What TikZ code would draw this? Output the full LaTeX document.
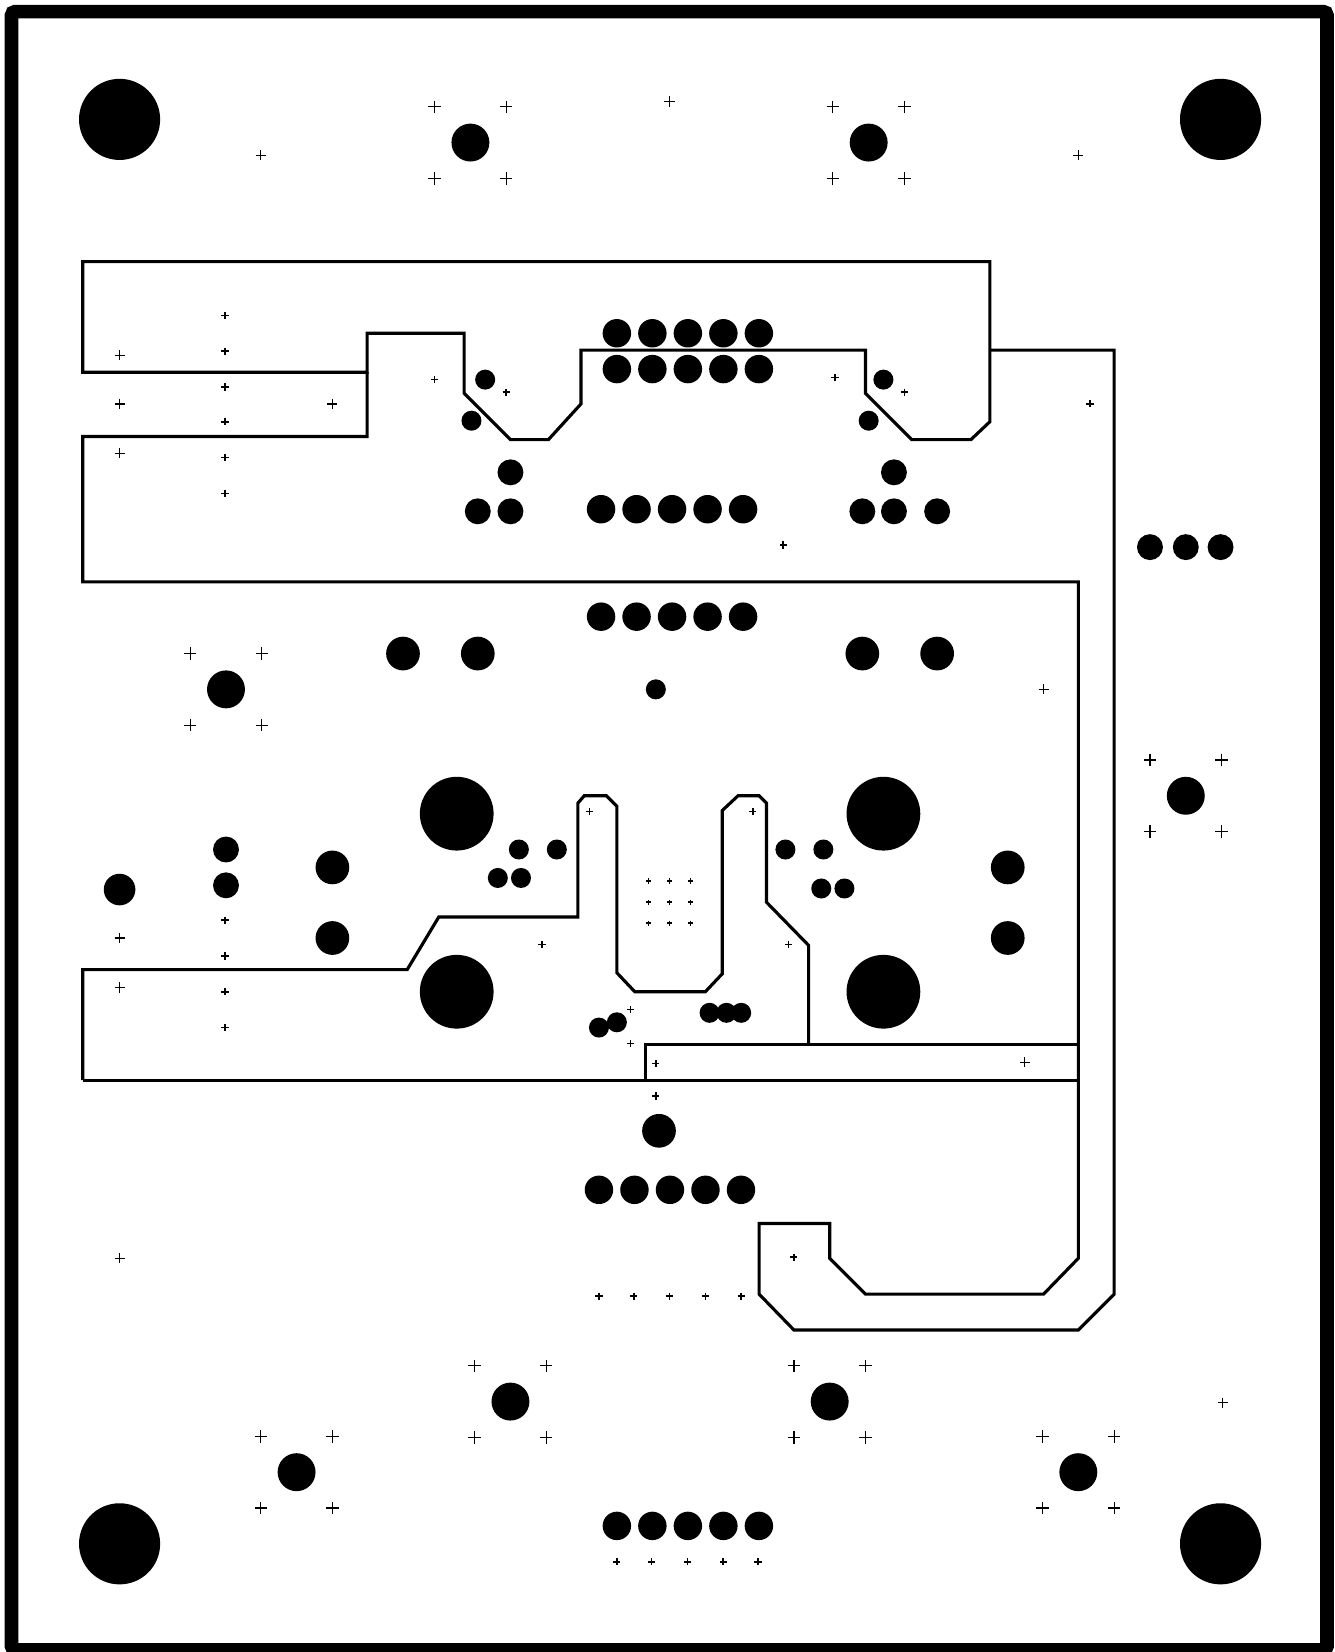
\documentclass[tikz,border=0pt]{standalone}
\def\lplus{+(-5.9,0) -- +(5.9,0) +(0,-5.9) -- +(0,5.9)}
\def\mplus{+(-4.8,0) -- +(4.8,0) +(0,-4.8) -- +(0,4.8)}
\def\splus{+(-3.4,0) -- +(3.4,0) +(0,-3.4) -- +(0,3.4)}
\def\dtrace{\draw[line width=0.85pt,line join=miter]}
\def\dlplus{\draw[line width=0.35pt]}
\def\dsplus{\draw[line width=0.45pt]}
\begin{document}
\begin{tikzpicture}[x=0.01cm,y=-0.01cm]
\useasboundingbox (-0.5,-0.3) rectangle (1266.5,1567.7);
% board edge
\draw[line width=3.7pt,rounded corners=1pt] (10.5,10.7) rectangle (1259,1565.7);
% traces
\dtrace (78,248) -- (939,248) -- (939,400) -- (921,417) -- (865,417) -- (821,373) -- (821,332) -- (551,332) -- (551,383) -- (520,417) -- (484,417) -- (440,373) -- (440,316) -- (348,316) -- (348,353) -- (78,353) -- cycle;
\dtrace (348,353) -- (348,414) -- (78,414) -- (78,552) -- (1023,552) -- (1023,1194) -- (990,1228) -- (821,1228) -- (787,1194) -- (787,1161) -- (720,1161) -- (720,1228) -- (753,1262) -- (1023,1262) -- (1057,1228) -- (1057,332) -- (939,332);
\dtrace (78,1025) -- (78,920) -- (386,920) -- (416,870) -- (548,870) -- (548,762) -- (554,755) -- (575,755) -- (585,765) -- (585,923) -- (602,941) -- (669,941) -- (685,924) -- (685,769) -- (700,755) -- (720,755) -- (727,762) -- (727,856) -- (767,897) -- (767,991);
\dtrace (78,1025) -- (1023,1025);
\dtrace (612,1025) -- (612,991) -- (1023,991);
% mounting holes
\foreach \x/\y in {113/113,1158/113,113/1465,1158/1465}
    \fill (\x,\y) circle (38.5);
\foreach \x/\y in {433/772,838/772,433/941,838/941}
    \fill (\x,\y) circle (35);
% pads with four big plus marks
\foreach \x/\y in {446/135,824/135,214/654,1125/755,484/1330,787/1330,281/1397,1023/1397} {
    \fill (\x,\y) circle (18);
    \foreach \i in {-34,34}
        \foreach \j in {-34,34}
            \dlplus ([shift={(\i,\j)}]\x,\y) \lplus;
}
% rows of five
\foreach \x/\y in {585/316,585/350,570/483,570/585,568/1129,585/1448}
    \foreach \i in {0,33.7,67.4,101.1,134.8}
        \fill ([shift={(\i,0)}]\x,\y) circle (13.5);
% other pads
\foreach \x/\y in {382/620,453/620,818/620,889/620,315/823,315/890,956/823,956/890,625/1073}
    \fill (\x,\y) circle (16);
\foreach \x/\y in {484/448,453/485,484/485,848/448,818/485,848/485,889/485,1091/519,1125/519,1158/519,214/806,214/840}
    \fill (\x,\y) circle (12.3);
\foreach \x/\y in {460/360,447/399,838/360,824/399,622/654,492/806,528/806,472/833,494/833,745/806,781/806,779/843,801/843,568/975,585/970,673/961,689/961,703/961}
    \fill (\x,\y) circle (9.5);
\fill (113,844) circle (15);
% plus marks
\foreach \x/\y in {247/147,635/96,1023/147,113/337,113/383,113/430,315/383,990/654,113/890,113/937,972/1008,113/1194,1160/1331}
    \dlplus (\x,\y) \mplus;
\foreach \x/\y in {213/299,213/333,213/367,213/400,213/434,213/468,412/360,480/372,792/358,858/372,1034/383,743/517,559/770,714/770,514/896,748/896,213/873,213/907,213/941,213/975,598/958,598/990,622/1009,622/1040,753/1193,568/1230,601/1230,635/1230,669/1230,703/1230,585/1482,618/1482,652/1482,686/1482,719/1482}
    \dsplus (\x,\y) \splus;
\foreach \x in {615,635,655}
    \foreach \y in {836,856,876}
        \dsplus (\x,\y) +(-2.5,0) -- +(2.5,0) +(0,-2.5) -- +(0,2.5);
\end{tikzpicture}
\end{document}
